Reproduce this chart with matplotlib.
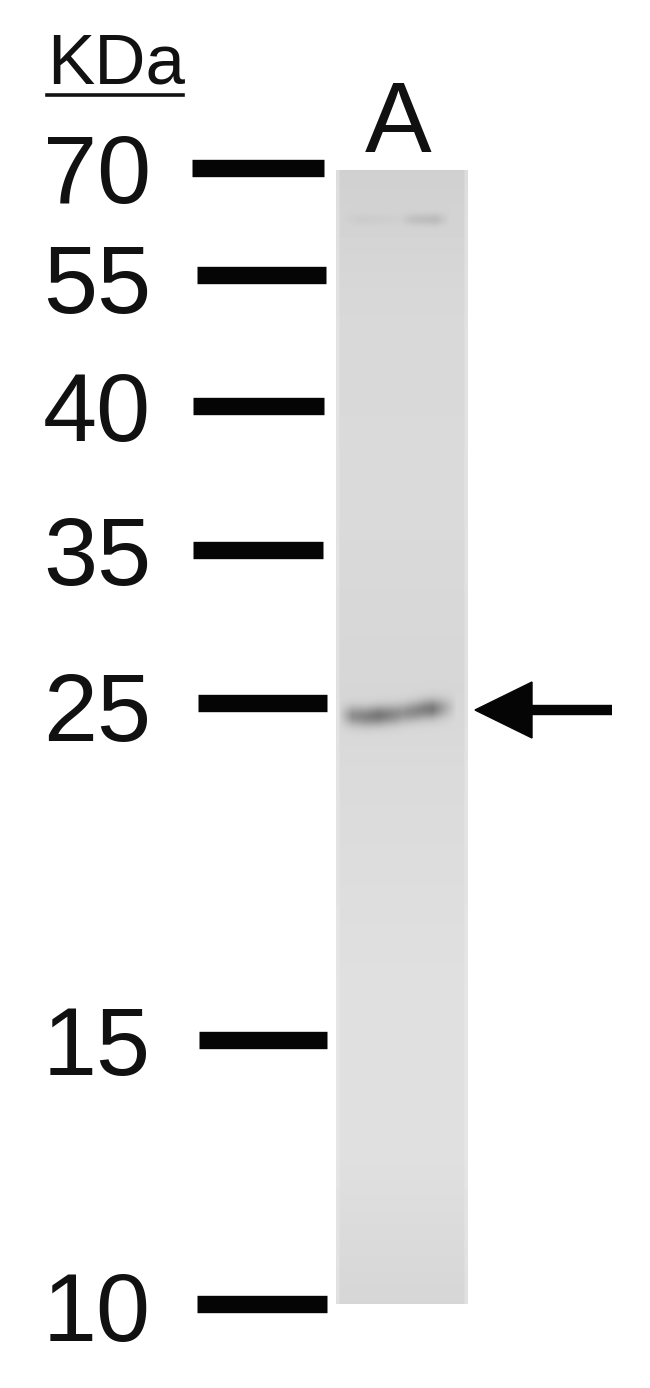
import numpy as np
import matplotlib
matplotlib.use("Agg")
import matplotlib.pyplot as plt
from matplotlib.patches import Polygon

W, H = 650, 1388

# Marker ladder
kda_labels = ["70", "55", "40", "35", "25", "15", "10"]
label_base = [203, 313, 441, 585, 741, 1075, 1341]
label_right = [151, 151, 151, 151, 151, 151, 151]
band_y = [168, 275, 406, 550, 703, 1040, 1304]
band_x0 = [192, 197, 193, 193, 198, 199, 197]
band_x1 = [324, 326, 324, 323, 327, 327, 327]

# Lane intensity profile (top to bottom)
lane_y = [170, 300, 500, 690, 760, 1000, 1150, 1303]
lane_grey = [208, 216, 218, 214, 218, 224, 224, 214]

# Main band centre-line
band_cx = [345, 365, 395, 425, 452]
band_cy = [715, 716, 714, 709, 707]
band_x = [338, 352, 378, 402, 432, 456]
band_amp = [0, 70, 95, 66, 92, 0]

fig = plt.figure(figsize=(W / 100, H / 100), dpi=100)
ax = fig.add_axes([0, 0, 1, 1])

# Lane
ys = np.arange(170, 1304)
profile = np.interp(ys, lane_y, lane_grey)
xs = np.arange(336, 468)
img = np.tile(profile[:, None], (1, len(xs)))
edge = np.clip(np.minimum(xs - 336, 467 - xs) / 4, 0.55, 1)
img = 236 - (236 - img) * edge[None, :]

# Main band and faint upper bands
by = np.interp(xs, band_cx, band_cy)
amp = np.interp(xs, band_x, band_amp)
for j in range(len(xs)):
    img[:, j] -= amp[j] * np.exp(-((ys - by[j]) / 10.0) ** 2)
amp2 = np.interp(xs, [340, 360, 400, 412, 435, 450], [0, 8, 4, 18, 24, 0])
img -= amp2[None, :] * np.exp(-((ys[:, None] - 219) / 6.0) ** 2)

ax.imshow(img, extent=(336, 468, 1304, 170), cmap="gray", vmin=0, vmax=255,
          aspect="auto", interpolation="bilinear", zorder=1)
ax.set_xlim(0, W)
ax.set_ylim(H, 0)
ax.axis("off")

# Marker bars
for y, x0, x1 in zip(band_y, band_x0, band_x1):
    ax.plot([x0, x1], [y, y], color="#050505", lw=12.5, solid_capstyle="butt", zorder=2)

# Labels
font = "Liberation Sans"
for txt, y, xr in zip(kda_labels, label_base, label_right):
    ax.text(xr, y, txt, ha="right", va="baseline", fontsize=70, family=font, color="#111111")
ax.text(47, 83, "KDa", ha="left", va="baseline", fontsize=51, family=font, color="#111111")
ax.plot([47, 183], [95, 95], color="#111111", lw=2.6, zorder=2)
ax.text(398, 152, "A", ha="center", va="baseline", fontsize=72, family=font, color="#111111")

# Arrow
ax.plot([525, 612], [710, 710], color="#050505", lw=7.5, solid_capstyle="butt", zorder=3)
ax.add_patch(Polygon([[475, 710], [532, 682], [532, 738]], closed=True, color="#050505", zorder=3))

fig.savefig("out.png", dpi=100, facecolor="white")
